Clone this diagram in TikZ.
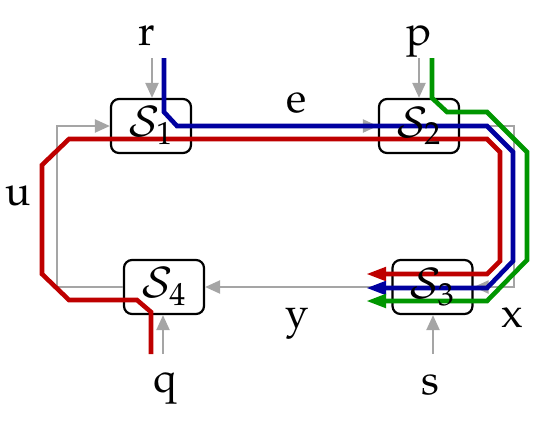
\documentclass[tikz,border=0pt]{standalone}
\usepackage[T1]{fontenc}
\usepackage{mathpazo}
\usetikzlibrary{arrows.meta}
\definecolor{myred}{RGB}{190,0,0}
\definecolor{myblue}{RGB}{0,0,160}
\definecolor{mygreen}{RGB}{0,150,0}
\definecolor{mygray}{RGB}{165,165,165}
\begin{document}
\begin{tikzpicture}[x=0.5pt,y=-0.5pt,
  box/.style={draw=black,line width=1.1pt,rounded corners=4pt,minimum width=40pt,minimum height=27pt,inner sep=0pt},
  gy/.style={draw=mygray,line width=1.1pt},
  garrow/.style={gy,-{Triangle[length=7.5pt,width=6.5pt]}},
  route/.style={line width=2.3pt},
  rarrow/.style={route,-{Triangle[length=10pt,width=6.5pt]}},
  lbl/.style={anchor=base,inner sep=0pt,font=\fontsize{21}{25}\selectfont},
  boxtext/.style={inner sep=0pt,font=\fontsize{21}{25}\selectfont}]
\useasboundingbox (0,0) rectangle (550,425);
% boxes
\node[box] (S1) at (151,126) {};
\node[box] (S2) at (419,126) {};
\node[box] (S4) at (164,287) {};
\node[box] (S3) at (432.5,287) {};
% free ends
\coordinate (rc) at (152,58);
\coordinate (pc) at (419,58);
\coordinate (qc) at (163,354);
\coordinate (sc) at (433,354);
\coordinate (uc) at (57,126);
\coordinate (xc) at (514,126);
% grey connectors
\draw[garrow] (rc) -- (rc |- S1.north);
\draw[garrow] (pc) -- (pc |- S2.north);
\draw[garrow] (qc) -- (qc |- S4.south);
\draw[garrow] (sc) -- (sc |- S3.south);
\draw[garrow] (S1.east) -- (S2.west);
\draw[garrow] (S3.west) -- (S4.east);
\draw[garrow] (S4.west) -| (uc) -- (S1.west);
\draw[garrow] (S2.east) -- (xc) |- (S3.east);
% coloured routes
\draw[rarrow,myred] (151,354) -- (151,312) -- (137,300) -- (69,300) -- (42,274) -- (42,165) -- (69,139) -- (487,139) -- (500,152) -- (500,261) -- (487,274) -- (366,274);
\draw[rarrow,myblue] (164,58) -- (164,112) -- (177,126) -- (487,126) -- (513,152) -- (513,261) -- (487,288) -- (366,288);
\draw[rarrow,mygreen] (432,58) -- (432,98) -- (447,112) -- (487,112) -- (527,152) -- (527,260) -- (487,301) -- (366,301);
% box texts
\node[boxtext] (T1) at (S1) {$\mathcal{S}_1$};
\node[boxtext] (T2) at (S2) {$\mathcal{S}_2$};
\node[boxtext] (T3) at (S3) {$\mathcal{S}_3$};
\node[boxtext] (T4) at (S4) {$\mathcal{S}_4$};
% labels
\node[lbl] (lr) at (147,45) {r};
\node[lbl] (lp) at (419,45) {p};
\node[lbl] (le) at (297,112) {e};
\node[lbl] (lu) at (18,205) {u};
\node[lbl] (lq) at (165,392) {q};
\node[lbl] (ls) at (430,394) {s};
\node[lbl] (ly) at (297,327) {y};
\node[lbl] (lx) at (512,327) {x};
\end{tikzpicture}
\end{document}
